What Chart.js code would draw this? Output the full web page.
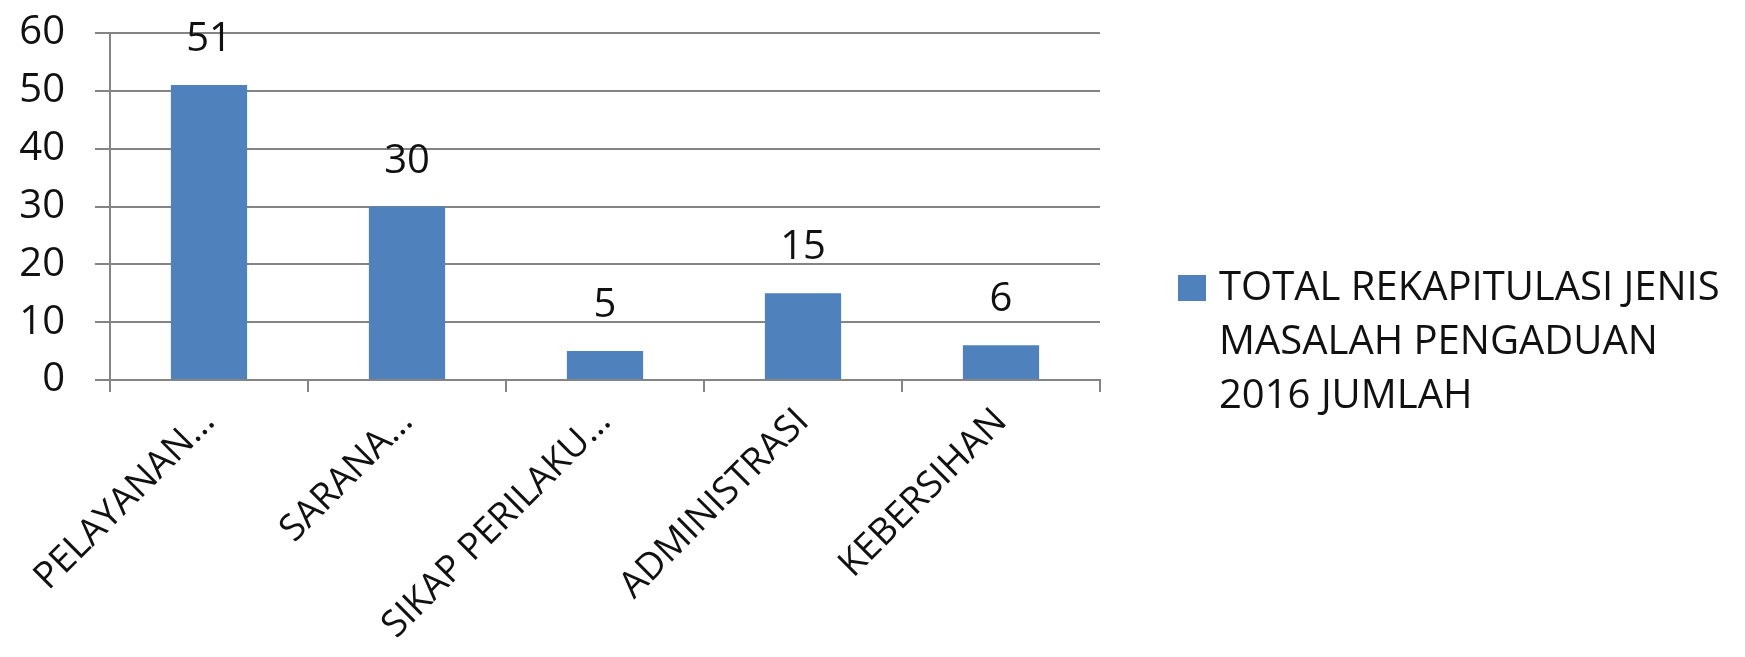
<!DOCTYPE html>
<html>
<head>
<meta charset="utf-8">
<script src="https://cdn.jsdelivr.net/npm/chart.js@4.4.1/dist/chart.umd.min.js"></script>
<style>
html,body{margin:0;padding:0;background:#fff;}
#wrap{position:relative;width:1745px;height:657px;}
#legend{position:absolute;left:1178px;top:258px;font-family:"Open Sans",Lato,sans-serif;font-size:40px;line-height:54px;color:#111;}
#legend .sw{position:absolute;left:0;top:17px;width:28px;height:26px;background:#4F81BD;}
#legend .tx{margin-left:41px;white-space:nowrap;}
</style>
</head>
<body>
<div id="wrap">
<canvas id="c" width="1745" height="657"></canvas>
<div id="legend"><div class="sw"></div><div class="tx"></div></div>
</div>
<script>
const categories = ["PELAYANAN…", "SARANA…", "SIKAP PERILAKU…", "ADMINISTRASI", "KEBERSIHAN"];
const values = [51, 30, 5, 15, 6];
const yTicks = [0, 10, 20, 30, 40, 50, 60];
const seriesName = ["TOTAL REKAPITULASI JENIS", "MASALAH PENGADUAN", "2016 JUMLAH"];

document.querySelector('#legend .tx').innerHTML = seriesName.join('<br>');

const FONT = '"Open Sans", Lato, sans-serif';
const FSIZE = 40;
const XSIZE = 37;

const valueLabels = {
  id: 'valueLabels',
  afterDatasetsDraw(chart) {
    const ctx = chart.ctx;
    const meta = chart.getDatasetMeta(0);
    ctx.save();
    ctx.font = FSIZE + 'px ' + FONT;
    ctx.fillStyle = '#111';
    ctx.textAlign = 'center';
    ctx.textBaseline = 'alphabetic';
    meta.data.forEach((bar, i) => {
      ctx.fillText(String(values[i]), bar.x, bar.y - 34);
    });
    ctx.restore();
  }
};

new Chart(document.getElementById('c'), {
  type: 'bar',
  data: {
    labels: categories,
    datasets: [{
      label: seriesName.join(' '),
      data: values,
      backgroundColor: '#4F81BD',
      borderWidth: 0,
      categoryPercentage: 1,
      barPercentage: 0.385
    }]
  },
  options: {
    responsive: false,
    animation: false,
    layout: { padding: { top: 33, right: 645, left: 0, bottom: 0 } },
    plugins: { legend: { display: false }, tooltip: { enabled: false } },
    scales: {
      x: {
        offset: true,
        grid: { offset: true, drawOnChartArea: false, drawTicks: true, tickLength: 12, color: '#848484', lineWidth: 2 },
        border: { display: true, color: '#848484', width: 2 },
        ticks: { color: '#111', font: { family: FONT, size: XSIZE }, minRotation: 45, maxRotation: 45, autoSkip: false, padding: 8 },
        afterFit(s) { s.height = 277; s.paddingLeft = 0; s.paddingRight = 0; }
      },
      y: {
        min: 0, max: 60,
        afterBuildTicks(s) { s.ticks = yTicks.map(v => ({ value: v })); },
        grid: { color: '#848484', lineWidth: 2, tickLength: 15 },
        border: { display: true, color: '#848484', width: 2 },
        ticks: { color: '#111', font: { family: FONT, size: FSIZE }, padding: 30 },
        afterFit(s) { s.width = 110; s.paddingTop = 0; s.paddingBottom = 0; }
      }
    }
  },
  plugins: [valueLabels]
});
</script>
</body>
</html>
